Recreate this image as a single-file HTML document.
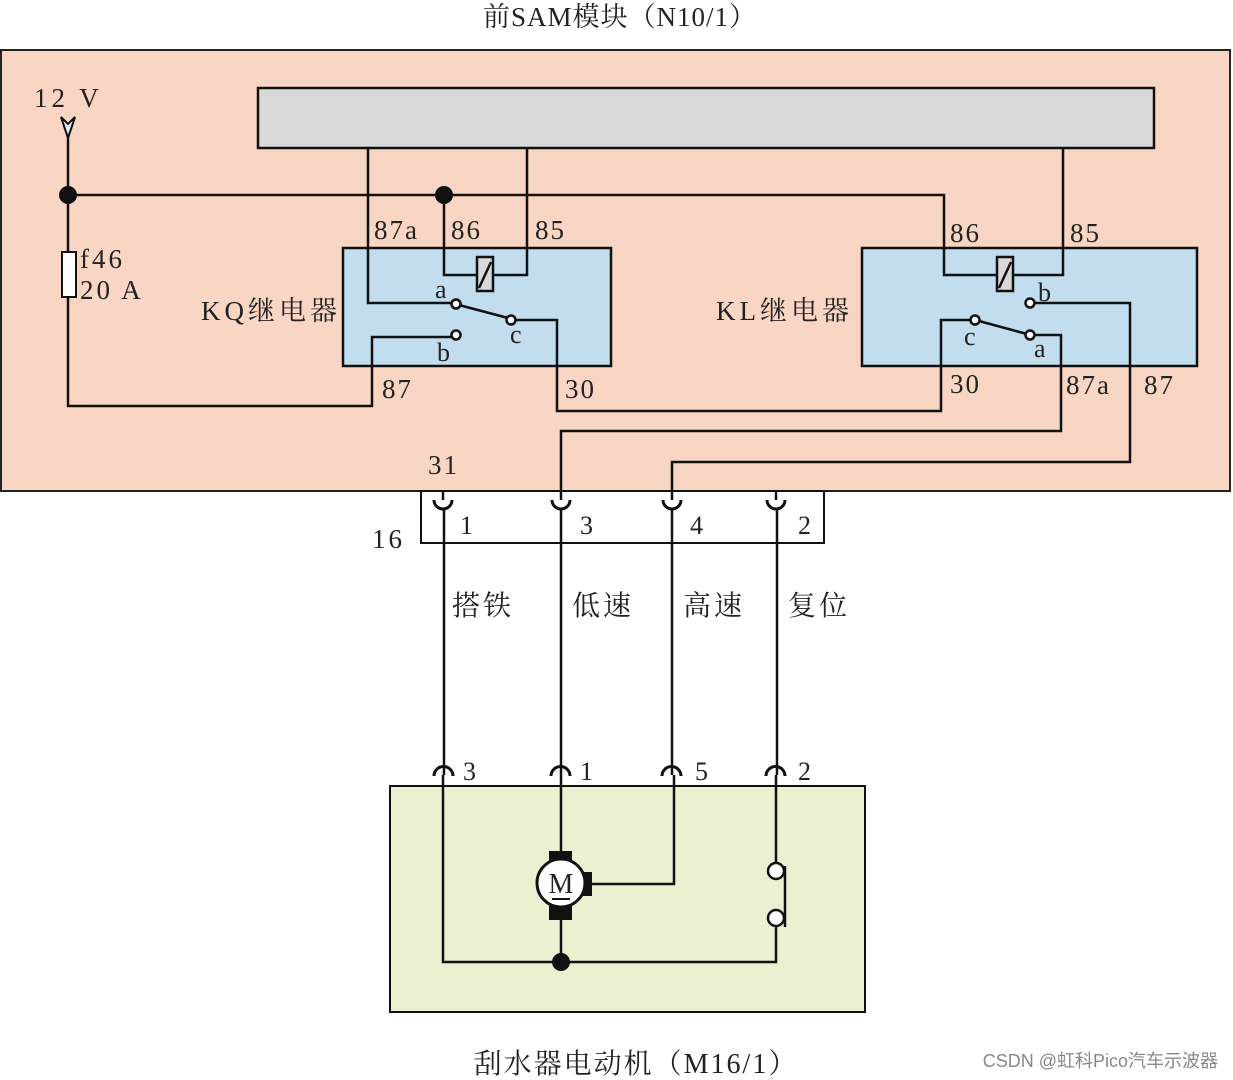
<!DOCTYPE html>
<html><head><meta charset="utf-8"><style>
html,body{margin:0;padding:0;background:#fff}
svg{display:block}
text{font-family:"Liberation Serif","Noto Serif CJK SC",serif;fill:#222}
</style></head><body>
<svg width="1233" height="1080" viewBox="0 0 1233 1080" xmlns="http://www.w3.org/2000/svg">
<text x="620" y="26" font-size="27" text-anchor="middle" letter-spacing="1">前SAM模块（N10/1）</text>
<rect x="1" y="50" width="1229" height="441" fill="#f9d6c4" stroke="#222" stroke-width="2"/>
<rect x="258" y="88" width="896" height="60" fill="#d9d9d9" stroke="#111" stroke-width="2.5"/>
<rect x="343" y="248" width="268" height="118" fill="#c2deee" stroke="#111" stroke-width="2.5"/>
<rect x="862" y="248" width="335" height="118" fill="#c2deee" stroke="#111" stroke-width="2.5"/>
<g fill="none" stroke="#111" stroke-width="2.5">
<path d="M68 135V406H372V337H452"/>
<path d="M68 195H944V275H1000"/>
<path d="M368 148V303H452"/>
<path d="M444 195V275H477"/>
<path d="M527 148V275H493"/>
<path d="M459 305L508 318"/>
<path d="M515 320H557V411H941V320H971"/>
<path d="M1063 148V275H1013"/>
<path d="M1034 303H1130V462H672V500"/>
<path d="M979 321L1027 334"/>
<path d="M1034 335H1061V431H561V500"/>
<path d="M443 491V500"/>
<path d="M776 491V500"/>
</g>
<path d="M61 117L68 138L75 117L68 124Z" fill="#ddeef5" stroke="#111" stroke-width="2"/>
<rect x="62" y="252" width="14" height="45" fill="#fff" stroke="#111" stroke-width="2"/>
<circle cx="68" cy="195" r="9" fill="#111"/>
<circle cx="444" cy="195" r="9" fill="#111"/>
<rect x="477" y="257" width="16" height="34" fill="#d9d9d9" stroke="#111" stroke-width="2.5"/>
<path d="M479 288L491 262" stroke="#111" stroke-width="2.5"/>
<rect x="997" y="257" width="16" height="34" fill="#d9d9d9" stroke="#111" stroke-width="2.5"/>
<path d="M999 288L1011 262" stroke="#111" stroke-width="2.5"/>
<g fill="#fff" stroke="#111" stroke-width="2.5">
<circle cx="456" cy="304" r="4.5"/><circle cx="511" cy="320" r="4.5"/><circle cx="456" cy="335" r="4.5"/>
<circle cx="1030" cy="303" r="4.5"/><circle cx="975" cy="320" r="4.5"/><circle cx="1030" cy="335" r="4.5"/>
</g>
<g font-size="27">
<text x="34" y="107" letter-spacing="4">12 V</text>
<text x="80" y="268" letter-spacing="3">f46</text>
<text x="80" y="299" letter-spacing="3">20 A</text>
<text x="201" y="320" letter-spacing="4">KQ继电器</text>
<text x="716" y="320" letter-spacing="4">KL继电器</text>
<text x="374" y="239" letter-spacing="2">87a</text>
<text x="451" y="239" letter-spacing="2">86</text>
<text x="535" y="239" letter-spacing="2">85</text>
<text x="382" y="398" letter-spacing="2">87</text>
<text x="565" y="398" letter-spacing="2">30</text>
<text x="950" y="242" letter-spacing="2">86</text>
<text x="1070" y="242" letter-spacing="2">85</text>
<text x="950" y="393" letter-spacing="2">30</text>
<text x="1066" y="394" letter-spacing="2">87a</text>
<text x="1144" y="394" letter-spacing="2">87</text>
<text x="428" y="474" letter-spacing="2">31</text>
<text x="372" y="548" letter-spacing="3">16</text>
</g>
<g font-size="26" fill="#334">
<text x="435" y="298">a</text><text x="510" y="343">c</text><text x="437" y="361">b</text>
<text x="1038" y="301">b</text><text x="964" y="345">c</text><text x="1034" y="357">a</text>
</g>
<rect x="421" y="491" width="403" height="52" fill="#fff" stroke="#111" stroke-width="2"/>
<g fill="none" stroke="#111" stroke-width="3">
<path d="M434 500A9 9 0 0 0 452 500"/><path d="M552 500A9 9 0 0 0 570 500"/>
<path d="M663 500A9 9 0 0 0 681 500"/><path d="M767 500A9 9 0 0 0 785 500"/>
</g>
<g fill="none" stroke="#111" stroke-width="2.5">
<path d="M443 491V500"/><path d="M561 491V500"/><path d="M672 491V500"/><path d="M776 491V500"/>
<path d="M444 508V775"/><path d="M561 508V775"/><path d="M672 508V775"/><path d="M777 508V775"/>
</g>
<g font-size="26">
<text x="460" y="534">1</text><text x="580" y="534">3</text><text x="690" y="534">4</text><text x="798" y="534">2</text>
</g>
<g font-size="28" font-family="Noto Sans CJK SC,sans-serif" letter-spacing="3">
<text x="452" y="615">搭铁</text><text x="572" y="615">低速</text><text x="683" y="615">高速</text><text x="788" y="615">复位</text>
</g>
<rect x="390" y="786" width="475" height="226" fill="#ebf0d1" stroke="#111" stroke-width="2"/>
<g fill="none" stroke="#111" stroke-width="3">
<path d="M434 776A9.5 9.5 0 0 1 453 776"/><path d="M551 776A9.5 9.5 0 0 1 570 776"/>
<path d="M662 776A9.5 9.5 0 0 1 681 776"/><path d="M766 776A9.5 9.5 0 0 1 785 776"/>
</g>
<g fill="none" stroke="#111" stroke-width="2.5">
<path d="M443 775V962H776V926"/>
<path d="M561 775V852"/><path d="M561 920V962"/>
<path d="M590 884H674V775"/>
<path d="M776 775V863"/>
<path d="M785 866V927"/>
</g>
<g font-size="26">
<text x="463" y="780">3</text><text x="580" y="780">1</text><text x="695" y="780">5</text><text x="798" y="780">2</text>
</g>
<rect x="549" y="851" width="23" height="10" fill="#111"/>
<rect x="549" y="906" width="23" height="14" fill="#111"/>
<rect x="580" y="872" width="12" height="24" fill="#111"/>
<circle cx="561" cy="883" r="24" fill="#fff" stroke="#111" stroke-width="3"/>
<text x="561" y="893" font-size="28" text-anchor="middle">M</text>
<path d="M552 899H570" stroke="#111" stroke-width="2"/>
<circle cx="776" cy="871" r="8" fill="#fff" stroke="#111" stroke-width="2.5"/>
<circle cx="776" cy="918" r="8" fill="#fff" stroke="#111" stroke-width="2.5"/>
<circle cx="561" cy="962" r="9" fill="#111"/>
<text x="636" y="1073" font-size="28" text-anchor="middle" letter-spacing="2">刮水器电动机（M16/1）</text>
<text x="1218" y="1067" font-size="18" text-anchor="end" fill="#888" style="fill:#888;font-family:'Liberation Sans','Noto Sans CJK SC',sans-serif">CSDN @虹科Pico汽车示波器</text>
</svg>
</body></html>
